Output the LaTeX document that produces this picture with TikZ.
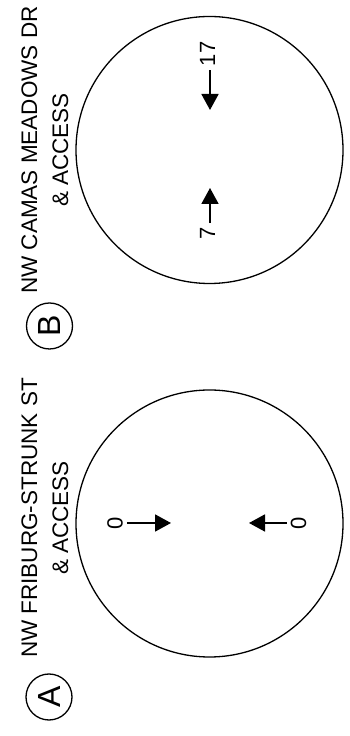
\documentclass[tikz,border=0pt]{standalone}
\usepackage{fontspec}
\setmainfont{Liberation Sans}
\usetikzlibrary{arrows.meta, positioning}

\begin{document}
\begin{tikzpicture}[
    x=1pt, y=1pt,
    junction/.style={draw, circle, line width=1.3pt, minimum size=267pt, inner sep=0pt},
    tag/.style={draw, circle, line width=1.3pt, minimum size=46pt, inner sep=0pt,
                rotate=90, font=\fontsize{32}{32}\selectfont},
    street/.style={align=center, rotate=90, font=\fontsize{22.5}{31}\selectfont},
    vol/.style={rotate=90, inner sep=4pt, font=\fontsize{22}{22}\selectfont},
    flow/.style={-{Triangle[length=16pt, width=17pt]}, line width=1.8pt}
  ]
    \useasboundingbox (0,0) rectangle (350,736);
    % B (upper)
    \node[junction] (jb) at (209.5,586) {};
    \node[tag] (tb) at (49.5,410) {B};
    \node[street] (sb) at (45,586) {NW CAMAS MEADOWS DR\\\& ACCESS};
    \node[vol] (vb17) at (207.5,682) {17};
    \node[vol] (vb7) at (207.5,502.5) {7};
    \coordinate (tb17) at (210,626);
    \coordinate (tb7) at (210,548);
    \draw[flow] (vb17.west -| tb17) -- (tb17);
    \draw[flow] (vb7.east -| tb7) -- (tb7);
    % A (lower)
    \node[junction] (ja) at (209.5,212.5) {};
    \node[tag] (ta) at (49,39) {A};
    \node[street] (sa) at (45,218) {NW FRIBURG-STRUNK ST\\\& ACCESS};
    \node[vol] (va1) at (115,213) {0};
    \node[vol] (va2) at (298.5,213) {0};
    \coordinate (ta1) at (171,213);
    \coordinate (ta2) at (249,213);
    \draw[flow] (va1.south) -- (ta1);
    \draw[flow] (va2.north) -- (ta2);
\end{tikzpicture}
\end{document}
